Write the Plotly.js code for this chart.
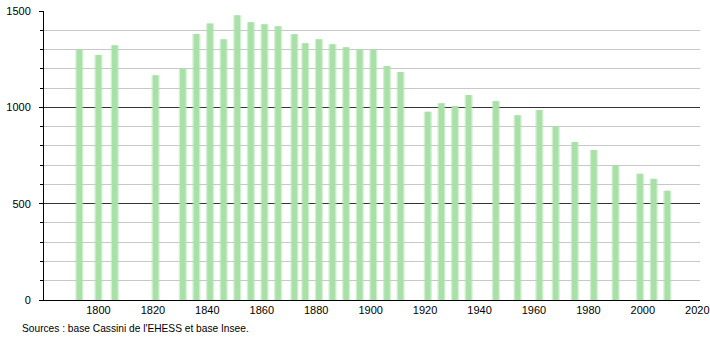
<!DOCTYPE html>
<html>
<head>
<meta charset="utf-8">
<script src="https://cdn.plot.ly/plotly-3.0.1.min.js"></script>
<style>
html,body{margin:0;padding:0;background:#fff;}
#chart{width:710px;height:340px;}
</style>
</head>
<body>
<div id="chart"></div>
<script>
const years = [1793,1800,1806,1821,1831,1836,1841,1846,1851,1856,1861,1866,1872,1876,1881,1886,1891,1896,1901,1906,1911,1921,1926,1931,1936,1946,1954,1962,1968,1975,1982,1990,1999,2004,2009];
const population = [1300,1271,1322,1167,1202,1381,1435,1353,1478,1441,1431,1421,1379,1333,1353,1327,1312,1300,1300,1214,1184,977,1021,1007,1064,1033,959,986,900,820,779,700,655,629,567];
const xTickVals = [1800,1820,1840,1860,1880,1900,1920,1940,1960,1980,2000,2020];
const yTickVals = [0,500,1000,1500];
const sourceText = "Sources : base Cassini de l'EHESS et base Insee.";

const font = {family: '"Liberation Sans", Arial, sans-serif', size: 11, color: '#000'};

const traces = [
  {type:'bar', x: years, y: population, width: 3.0,
   marker:{color:'rgba(175,228,175,0.55)', line:{width:0}}, hoverinfo:'skip'},
  {type:'bar', x: years, y: population, width: 2.0,
   marker:{color:'rgb(168,224,168)', line:{width:0}}}
];

const layout = {
  width: 710, height: 340,
  margin: {l:44, r:10, t:11, b:40, pad:0},
  paper_bgcolor:'#fff', plot_bgcolor:'#fff',
  showlegend:false, barmode:'overlay',
  font: font,
  xaxis: {
    range:[1780, 2021], tickmode:'array', tickvals:xTickVals,
    ticktext: xTickVals.map(String),
    showgrid:false, zeroline:false, showline:true, linecolor:'#000', linewidth:1,
    ticks:'', tickfont: font, fixedrange:true
  },
  yaxis: {
    range:[0,1500], tickmode:'array', tickvals:yTickVals,
    ticktext: yTickVals.map(String),
    showgrid:true, gridcolor:'#333', gridwidth:1,
    zeroline:false, showline:true, linecolor:'#000', linewidth:1,
    ticks:'outside', ticklen:4, tickcolor:'#000', tickfont: font,
    ticklabelstandoff: 6,
    minor:{dtick:100, showgrid:true, gridcolor:'#c8c8c8', gridwidth:1, ticks:'outside', ticklen:3, tickcolor:'#000'},
    fixedrange:true
  },
  annotations:[{
    text: sourceText, xref:'paper', yref:'paper', x:(20-44)/656, y:-28/289,
    xanchor:'left', yanchor:'middle', showarrow:false,
    font: {family: font.family, size: 10.2, color:'#000'}
  }]
};

Plotly.newPlot('chart', traces, layout, {staticPlot:true, displayModeBar:false});
</script>
</body>
</html>
